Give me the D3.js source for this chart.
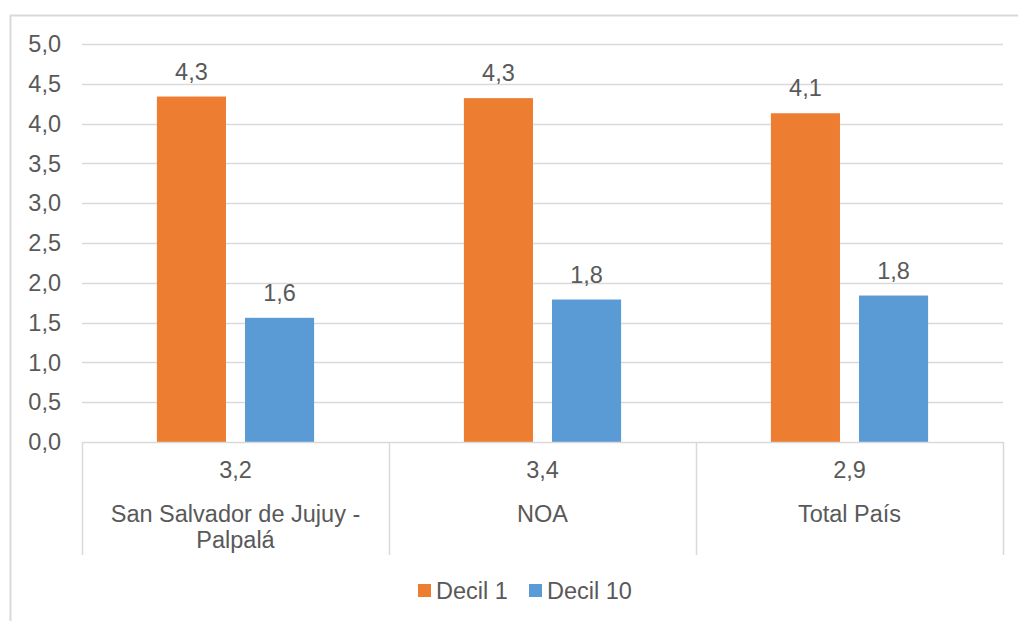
<!DOCTYPE html>
<html>
<head>
<meta charset="utf-8">
<script src="https://cdn.jsdelivr.net/npm/d3@7"></script>
<style>
  body { margin: 0; background: #fff; }
  text { font-family: "Liberation Sans", Arial, sans-serif; fill: #595959; }
</style>
</head>
<body>
<svg id="chart" width="1018" height="621"></svg>
<script>
// Chart data
var categories = ["San Salvador de Jujuy - Palpalá", "NOA", "Total País"];
var categoryLines = [["San Salvador de Jujuy -", "Palpalá"], ["NOA"], ["Total País"]];
var ratioLabels = ["3,2", "3,4", "2,9"];
var seriesNames = ["Decil 1", "Decil 10"];
var decil1 = [4.34, 4.32, 4.13];
var decil10 = [1.56, 1.79, 1.84];
var yTicks = [0, 0.5, 1, 1.5, 2, 2.5, 3, 3.5, 4, 4.5, 5];

var COLORS = ["#ED7D31", "#5B9BD5"];
var GRID = "#d9d9d9";
var FONT_SIZE = 23.5;

var svg = d3.select("#chart");

// outer chart border
svg.append("rect")
  .attr("x", 10.5).attr("y", 15.5)
  .attr("width", 1020).attr("height", 620)
  .attr("fill", "none").attr("stroke", GRID).attr("stroke-width", 2);

var plotLeft = 82, plotRight = 1003;
var plotTop = 44, plotBottom = 442;

var yScale = d3.scaleLinear()
  .domain([0, 5])
  .range([plotBottom, plotTop]);

var xScale = d3.scaleBand()
  .domain(categories)
  .range([plotLeft, plotRight])
  .paddingInner(0).paddingOuter(0);

var seriesScale = d3.scaleBand()
  .domain(seriesNames)
  .range([0, xScale.bandwidth()])
  .paddingInner(0.216)
  .paddingOuter(0.85);

var fmt = function (v) { return d3.format(".1f")(v).replace(".", ","); };

// gridlines
svg.append("g").selectAll("line")
  .data(yTicks.filter(function (d) { return d > 0; }))
  .enter().append("line")
  .attr("x1", plotLeft).attr("x2", plotRight)
  .attr("y1", function (d) { return Math.round(yScale(d)) + 0.5; })
  .attr("y2", function (d) { return Math.round(yScale(d)) + 0.5; })
  .attr("stroke", GRID).attr("stroke-width", 1.5);

// y axis labels
svg.append("g").selectAll("text")
  .data(yTicks)
  .enter().append("text")
  .attr("x", 61)
  .attr("y", function (d) { return yScale(d); })
  .attr("dy", "0.35em")
  .attr("text-anchor", "end")
  .style("font-size", FONT_SIZE + "px")
  .text(fmt);

// bars
var rows = categories.map(function (c, i) {
  return { cat: c, values: [
    { s: seriesNames[0], v: decil1[i], color: COLORS[0] },
    { s: seriesNames[1], v: decil10[i], color: COLORS[1] }
  ] };
});

var groups = svg.append("g").selectAll("g")
  .data(rows)
  .enter().append("g")
  .attr("transform", function (d) { return "translate(" + xScale(d.cat) + ",0)"; });

groups.selectAll("rect")
  .data(function (d) { return d.values; })
  .enter().append("rect")
  .attr("x", function (d) { return seriesScale(d.s); })
  .attr("width", seriesScale.bandwidth())
  .attr("y", function (d) { return yScale(d.v); })
  .attr("height", function (d) { return plotBottom - yScale(d.v); })
  .attr("fill", function (d) { return d.color; });

groups.selectAll("text.val")
  .data(function (d) { return d.values; })
  .enter().append("text")
  .attr("class", "val")
  .attr("x", function (d) { return seriesScale(d.s) + seriesScale.bandwidth() / 2; })
  .attr("y", function (d) { return yScale(d.v) - 17; })
  .attr("text-anchor", "middle")
  .style("font-size", FONT_SIZE + "px")
  .text(function (d) { return fmt(d.v); });

// category axis line and dividers
svg.append("line")
  .attr("x1", plotLeft).attr("x2", plotRight)
  .attr("y1", plotBottom + 0.5).attr("y2", plotBottom + 0.5)
  .attr("stroke", GRID).attr("stroke-width", 1.5);

var dividers = categories.map(function (c) { return xScale(c); }).concat([plotRight]);
svg.append("g").selectAll("line")
  .data(dividers)
  .enter().append("line")
  .attr("x1", function (d) { return Math.round(d) + 0.5; })
  .attr("x2", function (d) { return Math.round(d) + 0.5; })
  .attr("y1", plotBottom).attr("y2", 555)
  .attr("stroke", GRID).attr("stroke-width", 1.5);

// category labels (two levels)
var catLabels = svg.append("g").selectAll("g")
  .data(categories)
  .enter().append("g")
  .attr("transform", function (d) { return "translate(" + (xScale(d) + xScale.bandwidth() / 2) + ",0)"; });

catLabels.append("text")
  .attr("y", 478)
  .attr("text-anchor", "middle")
  .style("font-size", FONT_SIZE + "px")
  .text(function (d, i) { return ratioLabels[i]; });

catLabels.each(function (d, i) {
  var t = d3.select(this).append("text")
    .attr("text-anchor", "middle")
    .style("font-size", FONT_SIZE + "px");
  categoryLines[i].forEach(function (line, j) {
    t.append("tspan").attr("x", 0).attr("y", 522 + j * 26).text(line);
  });
});

// legend
var legendItems = [
  { name: seriesNames[0], color: COLORS[0], x: 418 },
  { name: seriesNames[1], color: COLORS[1], x: 529 }
];
var legend = svg.append("g").selectAll("g")
  .data(legendItems)
  .enter().append("g")
  .attr("transform", function (d) { return "translate(" + d.x + ",584)"; });

legend.append("rect")
  .attr("width", 13).attr("height", 13)
  .attr("fill", function (d) { return d.color; });

legend.append("text")
  .attr("x", 18).attr("y", 6.5)
  .attr("dy", "0.35em")
  .style("font-size", FONT_SIZE + "px")
  .text(function (d) { return d.name; });
</script>
</body>
</html>
